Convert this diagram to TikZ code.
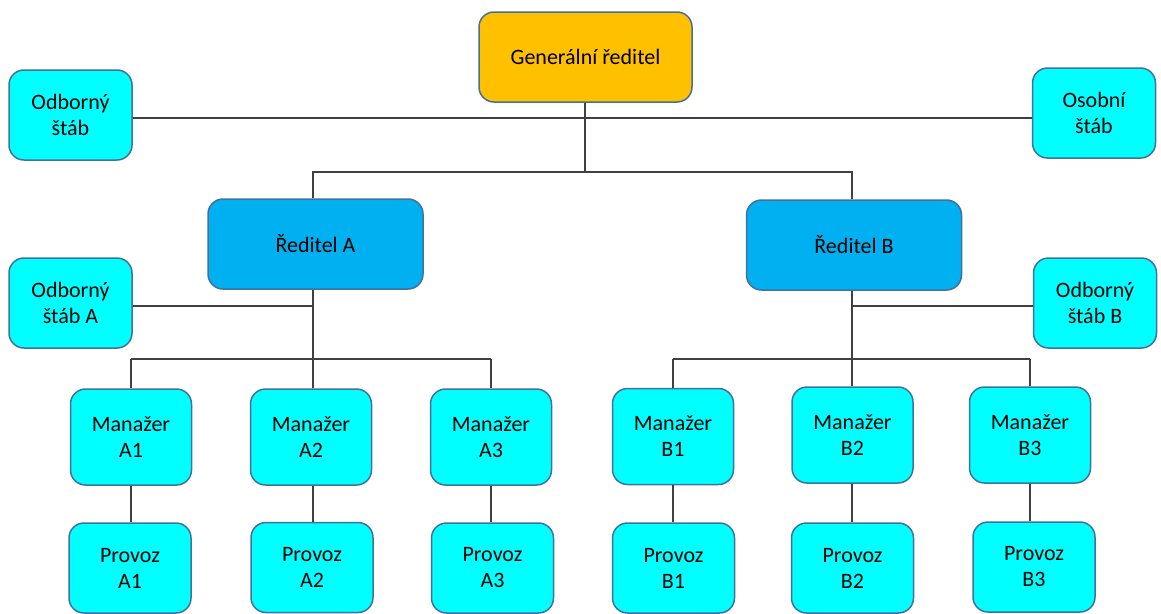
\documentclass[tikz,border=0pt]{standalone}
\usepackage{fontspec}
\setmainfont{Carlito}
\definecolor{gold}{HTML}{FFC000}
\definecolor{blueA}{HTML}{00B0F0}
\definecolor{cyanbox}{HTML}{00FFFF}
\definecolor{edgeblue}{HTML}{41719C}
\definecolor{linegray}{HTML}{404040}
\tikzset{
  box/.style={draw=edgeblue, line width=1.5pt, rounded corners=15pt, align=center,
    font=\fontsize{22}{26}\selectfont, text=black, inner sep=0pt},
  topbox/.style={box, fill=gold, minimum width=213pt, minimum height=90pt},
  dirbox/.style={box, fill=blueA, minimum width=215pt, minimum height=90pt},
  staff/.style={box, fill=cyanbox, minimum width=123pt, minimum height=90pt},
  mgr/.style={box, fill=cyanbox, minimum width=121pt, minimum height=96pt},
  prov/.style={box, fill=cyanbox, minimum width=122pt, minimum height=90pt},
  conn/.style={draw=linegray, line width=1.2pt}
}
\begin{document}
\begin{tikzpicture}[x=1pt,y=-1pt]
\useasboundingbox (0,0) rectangle (1161,613);
\clip (0,0) rectangle (1161,613);
\coordinate (bus0) at (585,118);
\coordinate (bus1) at (585,172);
\coordinate (busA) at (313,359);
\coordinate (busB) at (852,359);
\coordinate (stA) at (313,306);
\coordinate (stB) at (852,306);

\node[topbox] (gen) at (585.5,57) {Generální ředitel};
\node[staff] (os) at (70.5,115) {Odborný\\štáb};
\node[staff] (osob) at (1094,113) {Osobní\\štáb};
\node[dirbox] (ra) at (315.5,244) {Ředitel A};
\node[dirbox] (rb) at (854,245) {Ředitel B};
\node[staff] (osa) at (70.5,303) {Odborný\\štáb A};
\node[staff] (osbb) at (1095,303) {Odborný\\štáb B};

\node[mgr] (ma1) at (131,437) {Manažer\\A1};
\node[mgr] (ma2) at (311,437) {Manažer\\A2};
\node[mgr] (ma3) at (491,437) {Manažer\\A3};
\node[mgr] (mb1) at (673,436.5) {Manažer\\B1};
\node[mgr] (mb2) at (852.5,435) {Manažer\\B2};
\node[mgr] (mb3) at (1030,435) {Manažer\\B3};

\node[prov] (pa1) at (130,568) {Provoz\\A1};
\node[prov] (pa2) at (312,567.5) {Provoz\\A2};
\node[prov] (pa3) at (492.5,568) {Provoz\\A3};
\node[prov] (pb1) at (673.5,568) {Provoz\\B1};
\node[prov] (pb2) at (852.5,568) {Provoz\\B2};
\node[prov] (pb3) at (1034,567) {Provoz\\B3};

% general director level
\draw[conn] (os.east |- bus0) -- (osob.west |- bus0);
\draw[conn] (gen.south -| bus1) -- (bus1);
\draw[conn] (ra.north -| busA) -- (busA |- bus1) -- (busB |- bus1) -- (rb.north -| busB);
% director A
\draw[conn] (ra.south -| busA) -- (busA);
\draw[conn] (osa.east |- stA) -- (stA);
\draw[conn] (ma1.north |- busA) -- (ma3.north |- busA);
\draw[conn] (ma1.north |- busA) -- (ma1.north);
\draw[conn] (ma2.north -| busA) -- (busA);
\draw[conn] (ma3.north |- busA) -- (ma3.north);
% director B
\draw[conn] (rb.south -| busB) -- (busB);
\draw[conn] (stB) -- (osbb.west |- stB);
\draw[conn] (mb1.north |- busB) -- (mb3.north |- busB);
\draw[conn] (mb1.north |- busB) -- (mb1.north);
\draw[conn] (mb2.north -| busB) -- (busB);
\draw[conn] (mb3.north |- busB) -- (mb3.north);
% managers to operations
\foreach \m/\p in {ma1/pa1, ma3/pa3, mb1/pb1, mb3/pb3}
  \draw[conn] (\m.south) -- (\m.south |- \p.north);
\draw[conn] (ma2.south -| busA) -- (pa2.north -| busA);
\draw[conn] (mb2.south -| busB) -- (pb2.north -| busB);
\end{tikzpicture}
\end{document}
